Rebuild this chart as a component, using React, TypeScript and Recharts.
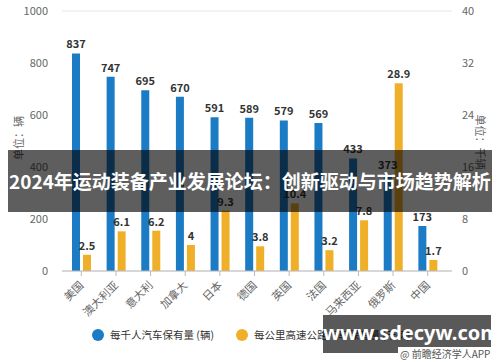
import { BarChart, Bar, XAxis, YAxis, CartesianGrid, LabelList } from 'recharts'

// Countries along the x axis
const countries = ['美国', '澳大利亚', '意大利', '加拿大', '日本', '德国', '英国', '法国', '马来西亚', '俄罗斯', '中国']
// Cars per 1000 people (left axis)
const carsPerThousand = [837, 747, 695, 670, 591, 589, 579, 569, 433, 373, 173]
// Cars per km of expressway, thousands (right axis)
const carsPerKm = [2.5, 6.1, 6.2, 4, 9.3, 3.8, 10.4, 3.2, 7.8, 28.9, 1.7]

const leftTicks = [0, 200, 400, 600, 800, 1000]
const rightTicks = [0, 8, 16, 24, 32, 40]

const BLUE = '#1b7bc5'
const ORANGE = '#f0af28'
const FONT = '"Noto Sans CJK SC", "Noto Sans", sans-serif'

const chartData = countries.map((name, i) => ({
  name,
  cars: carsPerThousand[i],
  perKm: carsPerKm[i],
}))

function CountryTick({ x, y, payload }: any) {
  return (
    <text
      x={x + 3}
      y={y + 8}
      transform={`rotate(-45, ${x + 3}, ${y + 8})`}
      textAnchor="end"
      fontSize={11}
      fill="#666"
      fontFamily={FONT}
    >
      {payload.value}
    </text>
  )
}

export default function App() {
  return (
    <div style={{ position: 'relative', width: 500, height: 362, background: '#fff', fontFamily: FONT }}>
      <style>{'body{margin:0}'}</style>
      <BarChart
        width={500}
        height={362}
        data={chartData}
        margin={{ top: 11, right: 0, bottom: 0, left: 0 }}
        barSize={8}
        barGap={3}
      >
        <CartesianGrid vertical={false} stroke="#e6e6e6" />
        <XAxis
          dataKey="name"
          interval={0}
          height={91}
          tick={<CountryTick />}
          tickLine={{ stroke: '#bbb' }}
          tickSize={5}
          axisLine={{ stroke: '#bbb' }}
          padding={{ left: 2, right: 7 }}
        />
        <YAxis
          yAxisId="left"
          width={62}
          domain={[0, 1000]}
          ticks={leftTicks}
          tick={{ fill: '#666', fontSize: 11, fontFamily: FONT }}
          axisLine={false}
          tickLine={false}
          tickMargin={8}
        />
        <YAxis
          yAxisId="right"
          orientation="right"
          width={48}
          domain={[0, 40]}
          ticks={rightTicks}
          tick={{ fill: '#666', fontSize: 11, fontFamily: FONT }}
          axisLine={false}
          tickLine={false}
          tickMargin={4}
        />
        <Bar yAxisId="left" dataKey="cars" fill={BLUE} isAnimationActive={false}>
          <LabelList dataKey="cars" position="top" offset={5} fill="#333" fontSize={11} fontWeight="bold" fontFamily={FONT} />
        </Bar>
        <Bar yAxisId="right" dataKey="perKm" fill={ORANGE} isAnimationActive={false}>
          <LabelList dataKey="perKm" position="top" offset={5} fill="#333" fontSize={11} fontWeight="bold" fontFamily={FONT} />
        </Bar>
      </BarChart>

      {/* axis unit labels */}
      <div style={{ position: 'absolute', left: 18, top: 138, transform: 'translate(-50%, -50%) rotate(-90deg)', fontSize: 11, color: '#666', whiteSpace: 'nowrap' }}>
        单位：辆
      </div>
      <div style={{ position: 'absolute', left: 481, top: 142, transform: 'translate(-50%, -50%) rotate(90deg)', fontSize: 11, color: '#666', whiteSpace: 'nowrap' }}>
        单位：千辆
      </div>

      {/* legend */}
      <div style={{ position: 'absolute', left: 92, top: 327, display: 'flex', alignItems: 'center', fontSize: 10.5, color: '#333', whiteSpace: 'nowrap' }}>
        <span style={{ width: 12, height: 12, borderRadius: 6, background: BLUE, marginRight: 6 }} />
        <span>每千人汽车保有量 (辆)</span>
        <span style={{ width: 12, height: 12, borderRadius: 6, background: ORANGE, marginLeft: 22, marginRight: 6 }} />
        <span>每公里高速公路汽车保有量 (千辆)</span>
      </div>

      {/* title band */}
      <div style={{ position: 'absolute', left: 8, top: 150, width: 484, height: 62, background: 'rgba(0,0,0,0.63)', color: '#fff', fontSize: 19, fontWeight: 'bold', lineHeight: '62px', whiteSpace: 'nowrap', paddingLeft: 1, boxSizing: 'border-box' }}>
        2024年运动装备产业发展论坛：创新驱动与市场趋势解析
      </div>

      {/* site watermark */}
      <div style={{ position: 'absolute', left: 323, top: 315, width: 168, height: 38, background: 'rgba(0,0,0,0.65)', color: '#fff', fontSize: 20, fontWeight: 'bold', lineHeight: '36px', textAlign: 'center', whiteSpace: 'nowrap', fontFamily: '"Noto Sans", sans-serif' }}>
        www.sdecyw.com
      </div>
      <div style={{ position: 'absolute', left: 398, top: 347, height: 14, lineHeight: '14px', padding: '0 2px', background: '#fff', fontSize: 10, color: '#555', whiteSpace: 'nowrap' }}>
        @ 前瞻经济学人APP
      </div>
    </div>
  )
}
